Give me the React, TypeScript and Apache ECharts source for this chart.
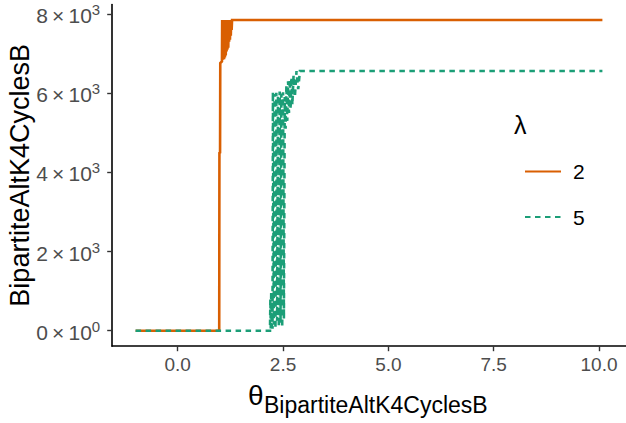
import React, { useEffect, useRef } from "react";
import * as echarts from "echarts";

// λ = 2 series (θ, statistic)
const lambda2Theta = [
  -1, 0.985, 0.99, 1.005, 1.01, 1.03, 1.05, 1.055, 1.06, 1.07, 1.08, 1.09, 1.1, 1.11, 1.12,
  1.13, 1.14, 1.15, 1.16, 1.17, 1.18, 1.19, 1.2, 1.21, 1.22, 1.23, 1.24, 1.25, 1.26, 1.27,
  1.28, 1.29, 10.08,
];
const lambda2Value = [
  0, 0, 4490, 4500, 6760, 6780, 6800, 7848, 6840, 7848, 6850, 7848, 6860, 7848, 6900,
  7848, 6950, 7848, 7050, 7848, 7100, 7848, 7150, 7848, 7300, 7848, 7350, 7848, 7450, 7848,
  7600, 7848, 7848,
];

// λ = 5 series (θ, statistic)
const lambda5Theta = [
  -1, 2.19, 2.2, 2.21, 2.22, 2.23, 2.24, 2.25, 2.26, 2.28, 2.3, 2.32, 2.34, 2.36, 2.38, 2.4,
  2.42, 2.44, 2.46, 2.48, 2.5, 2.52, 2.54, 2.56, 2.58, 2.6, 2.62, 2.64, 2.66, 2.68, 2.7, 2.72,
  2.75, 2.78, 2.82, 2.86, 2.9, 10.08,
];
const lambda5Value = [
  0, 0, 800, 0, 1000, 100, 700, 50, 6030, 150, 5980, 50, 6010, 250, 5950, 100,
  6040, 200, 5990, 80, 6020, 300, 5900, 5100, 6200, 5300, 6300, 5500, 6350, 5600, 6400, 5700,
  6450, 5900, 6560, 6100, 6560, 6560,
];

const xTicks = [0, 2.5, 5, 7.5, 10];
const yTicks = [0, 2000, 4000, 6000, 8000];
const yTickMantissa = ["0", "2", "4", "6", "8"];
const yTickExponent = ["0", "3", "3", "3", "3"];
const seriesNames = ["2", "5"];

const FONT = "'Liberation Sans', Arial, Helvetica, sans-serif";

export default function App() {
  const ref = useRef<HTMLDivElement>(null);
  useEffect(() => {
    if (!ref.current) return;
    const chart = echarts.init(ref.current, undefined, { renderer: "svg" });
    const d2 = lambda2Theta.map((t, i) => [t, lambda2Value[i]]);
    const d5 = lambda5Theta.map((t, i) => [t, lambda5Value[i]]);
    chart.setOption({
      animation: false,
      backgroundColor: "#ffffff",
      textStyle: { fontFamily: FONT },
      grid: {
        left: 112.2,
        right: 0,
        top: 4.5,
        bottom: 76.8,
        containLabel: false,
        outerBoundsMode: "none",
      },
      xAxis: {
        type: "value",
        min: -1.555,
        max: 10.64,
        splitLine: { show: false },
        axisLine: { show: true, onZero: false, lineStyle: { color: "#000", width: 1.6 } },
        axisTick: { show: true, length: 5, customValues: xTicks, lineStyle: { color: "#333", width: 1.4 } },
        axisLabel: {
          customValues: xTicks,
          formatter: (v: number) => v.toFixed(1),
          color: "#4D4D4D",
          fontSize: 19,
          fontFamily: FONT,
          margin: 9,
        },
      },
      yAxis: {
        type: "value",
        min: -392,
        max: 8240,
        splitLine: { show: false },
        axisLine: { show: true, onZero: false, lineStyle: { color: "#000", width: 1.6 } },
        axisTick: { show: true, length: 5, customValues: yTicks, lineStyle: { color: "#333", width: 1.4 } },
        axisLabel: {
          customValues: yTicks,
          margin: 12,
          formatter: (v: number) => {
            const i = yTicks.indexOf(v);
            return `{m|${yTickMantissa[i]}\u2009×\u200910}{e|${yTickExponent[i]}}`;
          },
          rich: {
            m: { fontSize: 21, color: "#4D4D4D", fontFamily: FONT, verticalAlign: "bottom", lineHeight: 24 },
            e: { fontSize: 15, color: "#4D4D4D", fontFamily: FONT, verticalAlign: "top", lineHeight: 15 },
          },
        },
        name: "BipartiteAltK4CyclesB",
        nameLocation: "middle",
        nameGap: 79,
        nameRotate: 90,
        nameMoveOverlap: false,
        nameTextStyle: { fontSize: 27, color: "#000", fontFamily: FONT },
      },
      legend: {
        data: seriesNames,
        orient: "vertical",
        left: 519,
        top: 156,
        itemWidth: 36,
        itemHeight: 14,
        itemGap: 24.6,
        itemStyle: { opacity: 0 },
        textStyle: { fontSize: 21, color: "#000", fontFamily: FONT, padding: [0, 0, 0, 7] },
      },
      graphic: [
        {
          type: "text",
          left: 514,
          top: 112,
          style: { text: "λ", font: `25px ${FONT}`, fill: "#000" },
        },
        {
          type: "text",
          x: 248,
          y: 395,
          style: { text: "θ", font: `28px ${FONT}`, fill: "#000", verticalAlign: "middle" },
        },
        {
          type: "text",
          x: 264,
          y: 404.6,
          style: { text: "BipartiteAltK4CyclesB", font: `23px ${FONT}`, fill: "#000", verticalAlign: "middle" },
        },
      ],
      series: [
        {
          name: seriesNames[0],
          type: "line",
          data: d2,
          showSymbol: false,
          symbol: "none",
          color: "#D95F02",
          lineStyle: { color: "#D95F02", width: 2.6, cap: "butt", join: "miter" },
          z: 2,
        },
        {
          name: seriesNames[1],
          type: "line",
          data: d5,
          showSymbol: false,
          symbol: "none",
          color: "#1B9E77",
          lineStyle: { color: "#1B9E77", width: 2.6, type: [5.5, 4.5], cap: "butt", join: "miter" },
          z: 3,
        },
      ],
    });
    return () => chart.dispose();
  }, []);
  return (
    <div
      ref={ref}
      style={{ position: "fixed", left: 0, top: 0, width: 626, height: 423, background: "#fff" }}
    />
  );
}
